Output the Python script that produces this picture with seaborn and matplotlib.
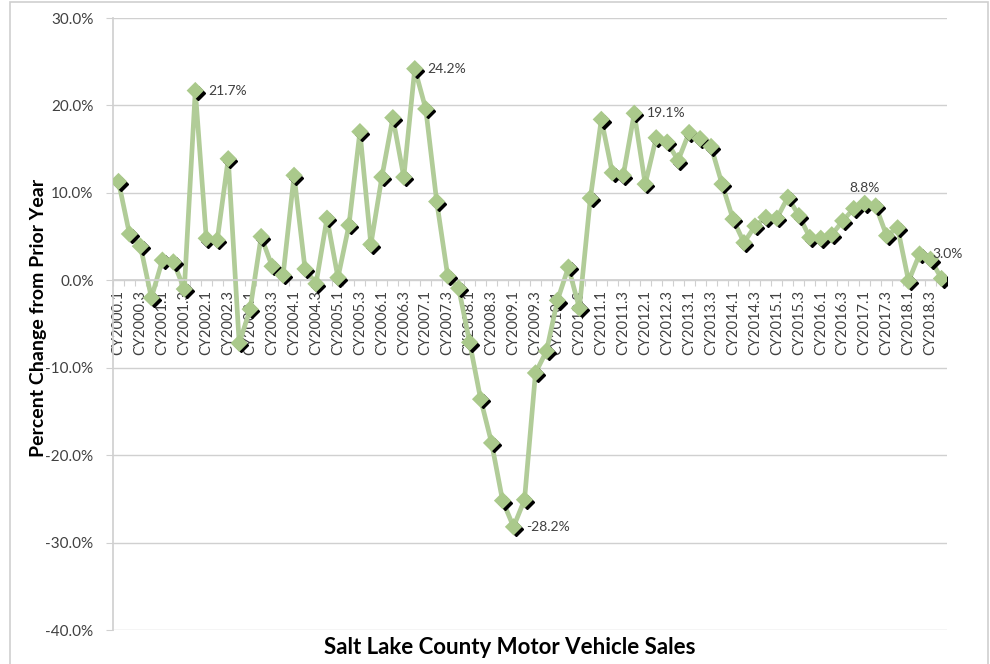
""" Salt Lake County motor vehicle sales.

Quarterly percent change from prior year, CY2000.1 - CY2018.4
"""

import matplotlib
matplotlib.use("Agg")
import matplotlib.pyplot as plt
import matplotlib.transforms as mtransforms
from matplotlib.patches import Rectangle
from matplotlib.ticker import FixedLocator, FuncFormatter
import seaborn as sns
import pandas as pd


# --------------------------------------------------------
#       DATA
# --------------------------------------------------------

YEARS = list(range(2000, 2019))
QUARTERS = [1, 2, 3, 4]

# percent change from prior year, one value per quarter
PCT_CHANGE = [
    11.3, 5.3, 3.9, -2.0,     # 2000
    2.3, 2.1, -1.0, 21.7,     # 2001
    4.8, 4.6, 13.9, -7.2,     # 2002
    -3.3, 5.0, 1.6, 0.6,      # 2003
    12.0, 1.3, -0.4, 7.1,     # 2004
    0.3, 6.3, 17.0, 4.1,      # 2005
    11.8, 18.6, 11.8, 24.2,   # 2006
    19.6, 9.0, 0.5, -0.9,     # 2007
    -7.1, -13.6, -18.6, -25.2,  # 2008
    -28.2, -25.1, -10.6, -8.1,  # 2009
    -2.3, 1.5, -3.2, 9.4,     # 2010
    18.4, 12.3, 12.0, 19.1,   # 2011
    11.0, 16.3, 15.8, 13.7,   # 2012
    16.9, 16.2, 15.3, 11.0,   # 2013
    7.0, 4.3, 6.2, 7.2,       # 2014
    7.1, 9.5, 7.4, 4.9,       # 2015
    4.8, 5.2, 6.8, 8.2,       # 2016
    8.8, 8.5, 5.1, 6.0,       # 2017
    -0.1, 3.0, 2.4, 0.2,      # 2018
]

# quarters that carry a value label, and where the label goes
LABELED = {"CY2001.4": "right", "CY2006.4": "right", "CY2009.1": "right",
           "CY2011.4": "right", "CY2017.1": "top", "CY2018.2": "right"}

Y_TICKS = [30, 20, 10, 0, -10, -20, -30, -40]

TITLE = "Salt Lake County Motor Vehicle Sales"
Y_LABEL = "Percent Change from Prior Year"

LINE_COLOR = "#b1cc98"
MARKER_COLOR = "#aac98b"
GRID_COLOR = "#d0d0d0"
TEXT_COLOR = "#404040"


# --------------------------------------------------------
#       PLOT
# --------------------------------------------------------

def plot_sales(df):
    """Line chart with diamond markers and shadows, Excel style

    :param df: dataframe with columns quarter, pos, pct
    """

    sns.set_theme(style="white")
    plt.rcParams["font.family"] = ["Lato", "DejaVu Sans"]

    fig = plt.figure(figsize=(9.9, 6.64), dpi=100)
    ax = fig.add_axes([113 / 990, 1 - 630 / 664, (947 - 113) / 990, (630 - 18) / 664])

    # the line itself
    sns.lineplot(data=df, x="pos", y="pct", ax=ax, color=LINE_COLOR,
                 linewidth=3.4, zorder=2, legend=False)

    # black shadow of the markers (offset down / right)
    shadow = mtransforms.offset_copy(ax.transData, fig=fig, x=2.2, y=-2.2, units="dots")
    ax.plot(df["pos"], df["pct"], linestyle="none", marker="D", markersize=7.3,
            color="black", transform=shadow, zorder=3)

    # green diamonds
    sns.scatterplot(data=df, x="pos", y="pct", ax=ax, marker="D", s=78,
                    color=MARKER_COLOR, edgecolor="none", linewidth=0, zorder=4,
                    legend=False)

    # value labels
    for quarter, where in LABELED.items():
        row = df[df["quarter"] == quarter].iloc[0]
        txt = f"{row['pct']:.1f}%"
        if where == "right":
            ax.annotate(txt, (row["pos"], row["pct"]), xytext=(9, 0),
                        textcoords="offset points", ha="left", va="center",
                        fontsize=10, color=TEXT_COLOR, zorder=5)
        else:
            ax.annotate(txt, (row["pos"], row["pct"]), xytext=(0, 7),
                        textcoords="offset points", ha="center", va="bottom",
                        fontsize=10, color=TEXT_COLOR, zorder=5)

    # y axis
    ax.set_ylim(-40, 30)
    ax.set_yticks(Y_TICKS)
    ax.yaxis.set_major_formatter(FuncFormatter(lambda v, p: f"{v:.1f}%"))
    ax.tick_params(axis="y", length=5, width=0.8, color=GRID_COLOR,
                   labelsize=11, labelcolor=TEXT_COLOR, left=True, pad=9)
    ax.grid(axis="y", color=GRID_COLOR, linewidth=1.0)
    ax.set_axisbelow(True)

    # x axis: crosses at zero, labels on every other quarter
    ax.set_xlim(-0.5, len(df) - 0.5)
    ax.spines["bottom"].set_position(("data", 0))
    ax.spines["bottom"].set_color(GRID_COLOR)
    ax.spines["left"].set_color(GRID_COLOR)
    ax.spines["top"].set_visible(False)
    ax.spines["right"].set_visible(False)
    ax.set_xticks(df["pos"][::2])
    ax.set_xticklabels(df["quarter"][::2], rotation=90, fontsize=10.5,
                       color=TEXT_COLOR)
    ax.xaxis.set_minor_locator(FixedLocator([p - 0.5 for p in df["pos"]] + [len(df) - 0.5]))
    ax.tick_params(axis="x", which="major", length=0, pad=7)
    ax.tick_params(axis="x", which="minor", length=4, width=0.8,
                   color=GRID_COLOR, bottom=True)

    ax.set_xlabel("")
    ax.set_ylabel(Y_LABEL, fontsize=14, fontweight="bold", color="black")
    ax.yaxis.set_label_coords((47 - 113) / 834, 0.51)

    # title at the bottom
    fig.text(510 / 990, 1 - 647 / 664, TITLE, ha="center", va="center",
             fontsize=16, fontweight="bold", color="black")

    # light frame around the chart area
    fig.add_artist(Rectangle((10 / 990, -0.1), (988 - 10) / 990, 1.1 - 2 / 664,
                             transform=fig.transFigure, fill=False,
                             edgecolor="#cfcfcf", linewidth=1.2))

    fig.savefig("out.png", dpi=100)
    plt.close(fig)


# --------------------------------------------------------
#       MAIN
# --------------------------------------------------------

if __name__ == "__main__":

    quarters = [f"CY{y}.{q}" for y in YEARS for q in QUARTERS]
    df = pd.DataFrame({"quarter": quarters,
                       "pos": range(len(quarters)),
                       "pct": PCT_CHANGE})

    plot_sales(df)
